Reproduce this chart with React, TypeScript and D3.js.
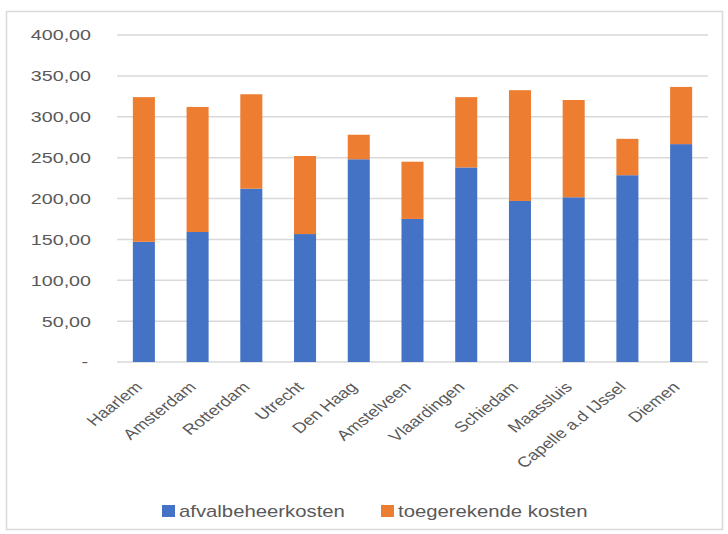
import React from "react";
import * as d3 from "d3";

const categories = ["Haarlem","Amsterdam","Rotterdam","Utrecht","Den Haag","Amstelveen","Vlaardingen","Schiedam","Maassluis","Capelle a.d IJssel","Diemen"];
const afvalbeheerkosten = [147, 159, 212, 156.5, 248, 175, 238, 197, 201.5, 228.5, 266.5];
const toegerekendeKosten = [177, 153, 115.5, 95.5, 30, 70, 86, 135.5, 119, 44.5, 70];
const yTicks = [0, 50, 100, 150, 200, 250, 300, 350, 400];
const seriesNames = ["afvalbeheerkosten", "toegerekende kosten"];
const colors = ["#4472C4", "#ED7D31"];

const W = 728, H = 534;
const left = 117, right = 708, top = 35, bottom = 362;
const font = "'Liberation Sans', Arial, sans-serif";
const textColor = "#595959";
const sx = 1.27;

export default function App() {
  const x = d3.scaleBand<string>().domain(categories).range([left, right]).paddingInner(0.59).paddingOuter(0.295);
  const y = d3.scaleLinear().domain([0, 400]).range([bottom, top]);
  const rows = categories.map((c, i) => ({ cat: c, a: afvalbeheerkosten[i], b: toegerekendeKosten[i] }));
  const stack = d3.stack<any>().keys(["a", "b"])(rows);
  const fmt = (v: number) => (v === 0 ? "-" : v.toFixed(2).replace(".", ","));

  return (
    <div style={{ position: "absolute", left: 0, top: 0 }}>
      <svg width={W} height={H} style={{ display: "block" }}>
        <rect x={0} y={0} width={W} height={H} fill="#fff" />
        <rect x={6.5} y={11.5} width={716} height={518} fill="none" stroke="#d9d9d9" strokeWidth={1.5} />
        {yTicks.map((t) => (
          <g key={t}>
            <line x1={left} x2={right} y1={y(t)} y2={y(t)} stroke="#d9d9d9" strokeWidth={1.5} />
            <text transform={`translate(${t === 0 ? 88 : 91},${y(t)}) scale(${sx},1)`} dy="0.35em" textAnchor="end" fontFamily={font} fontSize={15.5} fill={textColor}>
              {fmt(t)}
            </text>
          </g>
        ))}
        {stack.map((s, si) => (
          <g key={si}>
            {s.map((d: any, i: number) => (
              <rect key={i} x={x(categories[i])} width={x.bandwidth()} y={y(d[1])} height={y(d[0]) - y(d[1])} fill={colors[si]} />
            ))}
          </g>
        ))}
        {categories.map((c) => {
          const cx = (x(c) as number) + x.bandwidth() / 2 - 0.5;
          const cy = 388;
          return (
            <text key={c} transform={`translate(${cx},${cy}) scale(${sx},1) rotate(-45)`} textAnchor="end" fontFamily={font} fontSize={14.5} fill={textColor}>
              {c}
            </text>
          );
        })}
        {seriesNames.map((n, i) => {
          const lx = i === 0 ? 162 : 381;
          return (
            <g key={n}>
              <rect x={lx} y={505} width={13} height={12} fill={colors[i]} />
              <text transform={`translate(${lx + 17},517) scale(${sx},1)`} fontFamily={font} fontSize={16} fill={textColor}>{n}</text>
            </g>
          );
        })}
      </svg>
    </div>
  );
}
